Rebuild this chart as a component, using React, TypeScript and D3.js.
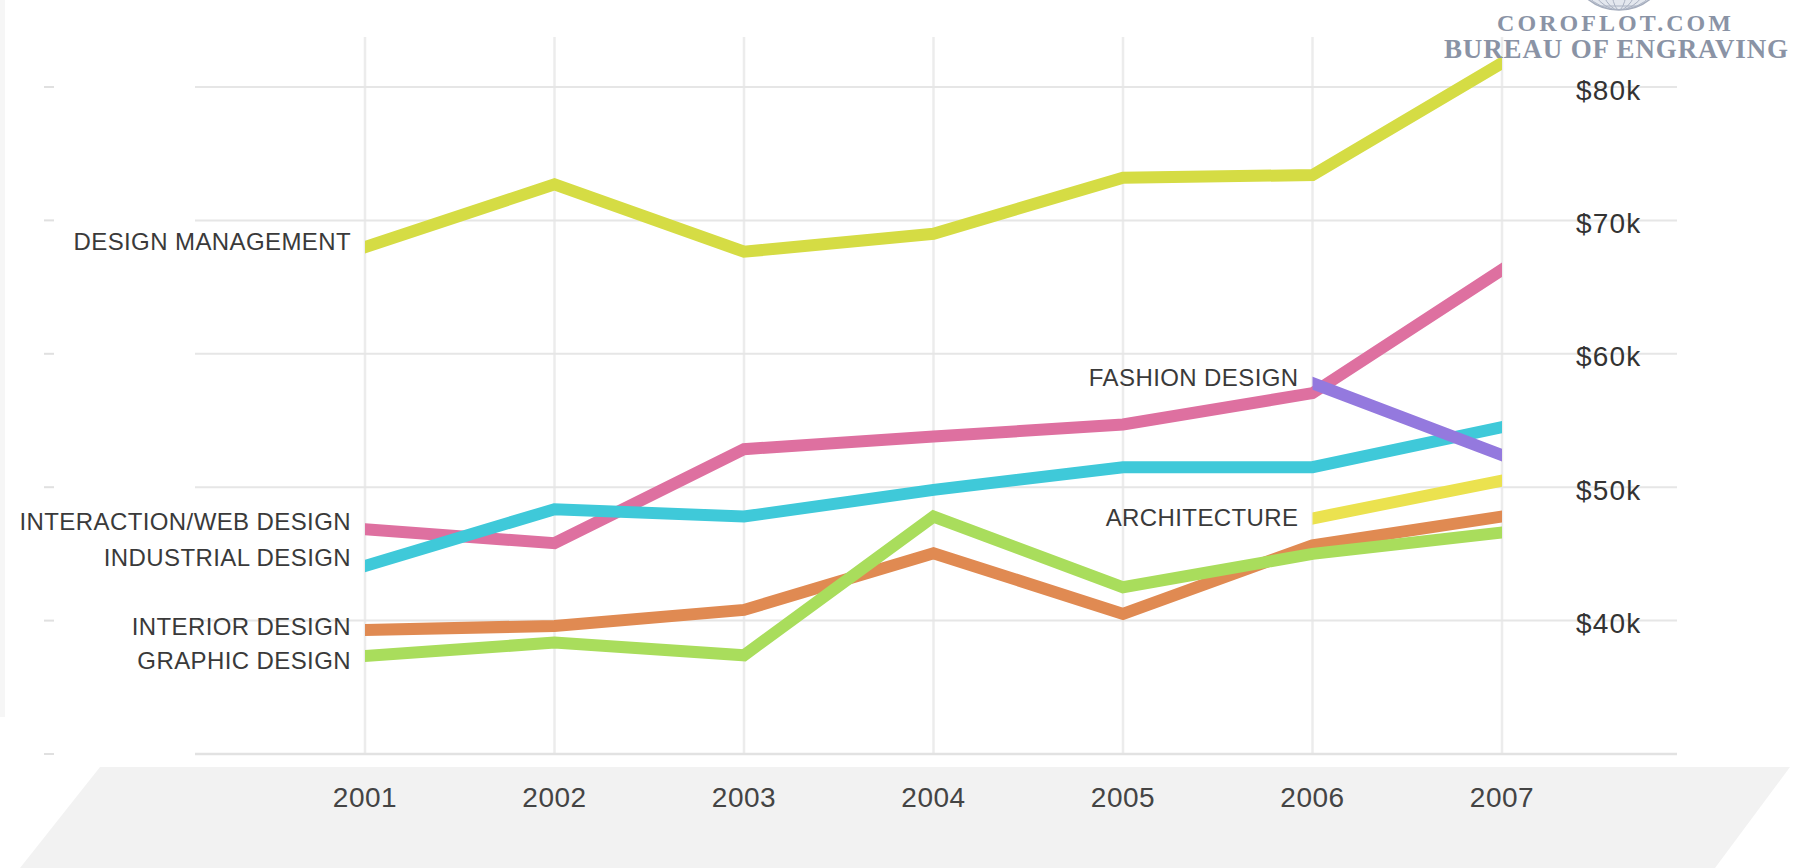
import React from 'react';
import * as d3 from 'd3';

const years = [2001, 2002, 2003, 2004, 2005, 2006, 2007];
const yTickValues = [40, 50, 60, 70, 80];
const gridLevels = [30, 40, 50, 60, 70, 80];
const yTickLabels = ['$40k', '$50k', '$60k', '$70k', '$80k'];

const designManagement = [68.0, 72.7, 67.65, 69.0, 73.2, 73.4, 81.8];
const interactionWeb = [46.85, 45.8, 52.85, 53.8, 54.7, 57.05, 66.3];
const industrial = [44.1, 48.35, 47.8, 49.8, 51.5, 51.5, 54.5];
const interior = [39.3, 39.6, 40.8, 45.05, 40.5, 45.65, 47.8];
const graphic = [37.35, 38.35, 37.4, 47.8, 42.5, 45.0, 46.6];
const fashionYears = [2006, 2007];
const fashion = [57.8, 52.4];
const architectureYears = [2006, 2007];
const architecture = [47.66, 50.5];

type Series = { name: string; years: number[]; values: number[]; color: string; labelDy: number };

const series: Series[] = [
  { name: 'DESIGN MANAGEMENT', years, values: designManagement, color: '#d5dc44', labelDy: -6 },
  { name: 'INTERIOR DESIGN', years, values: interior, color: '#e08a52', labelDy: -3 },
  { name: 'INTERACTION/WEB DESIGN', years, values: interactionWeb, color: '#de70a0', labelDy: -8 },
  { name: 'INDUSTRIAL DESIGN', years, values: industrial, color: '#3fc9d9', labelDy: -8.5 },
  { name: 'GRAPHIC DESIGN', years, values: graphic, color: '#a9dd5c', labelDy: 5 },
  { name: 'ARCHITECTURE', years: architectureYears, values: architecture, color: '#ebe24f', labelDy: -1 },
  { name: 'FASHION DESIGN', years: fashionYears, values: fashion, color: '#9479de', labelDy: -6 },
];

const W = 1797;
const H = 868;

export default function App() {
  const x = d3.scaleLinear().domain([2001, 2007]).range([365, 1502]);
  const y = d3.scaleLinear().domain([30, 80]).range([754, 87]);
  const line = d3
    .line<[number, number]>()
    .x((d) => x(d[0]))
    .y((d) => y(d[1]));

  const sans = "'Liberation Sans', Arial, Helvetica, sans-serif";
  const serif = "'Liberation Serif', 'DejaVu Serif', serif";

  const gridLeft = 195;
  const gridRight = 1677;
  const floorTop = 767;
  const floor = [
    [100, floorTop],
    [1790, floorTop],
    [1715, H],
    [20, H],
  ];

  return (
    <div>
      <style>{`body{margin:0;background:#fff}`}</style>
      <svg width={W} height={H} style={{ display: 'block' }}>
        <defs>
          {series.map((s, i) => (
            <clipPath id={`clip-${i}`} key={i}>
              <rect
                x={x(s.years[0])}
                y={0}
                width={x(s.years[s.years.length - 1]) - x(s.years[0])}
                height={H}
              />
            </clipPath>
          ))}
          <clipPath id="globe-clip">
            <circle cx={1619} cy={-40} r={50} />
          </clipPath>
        </defs>

        {/* left faint strip */}
        <rect x={0} y={0} width={5} height={717} fill="#f6f6f6" />

        {/* floor */}
        <polygon points={floor.map((p) => p.join(',')).join(' ')} fill="#f2f2f2" />

        {/* vertical grid */}
        {years.map((yr) => (
          <line
            key={yr}
            x1={x(yr)}
            x2={x(yr)}
            y1={37}
            y2={y(30)}
            stroke="#ececec"
            strokeWidth={2.5}
          />
        ))}

        {/* horizontal grid */}
        {gridLevels.map((v) => (
          <g key={v}>
            <line
              x1={gridLeft}
              x2={gridRight}
              y1={y(v)}
              y2={y(v)}
              stroke={v === 30 ? '#e2e2e2' : '#e6e6e6'}
              strokeWidth={v === 30 ? 2.5 : 2}
            />
            <line x1={44} x2={54} y1={y(v)} y2={y(v)} stroke="#e0e0e0" strokeWidth={2} />
          </g>
        ))}

        {/* lines */}
        {series.map((s, i) => (
          <path
            key={s.name}
            d={line(s.years.map((yr, j) => [yr, s.values[j]] as [number, number])) || ''}
            fill="none"
            stroke={s.color}
            strokeWidth={12}
            strokeLinecap="square"
            strokeLinejoin="miter"
            strokeMiterlimit={4}
            clipPath={`url(#clip-${i})`}
          />
        ))}

        {/* series labels */}
        {series.map((s) => (
          <text
            key={s.name}
            x={x(s.years[0]) - 14}
            y={y(s.values[0]) + s.labelDy}
            textAnchor="end"
            dominantBaseline="central"
            fontFamily={sans}
            fontSize={24}
            letterSpacing={0.4}
            fill="#3a3a3a"
          >
            {s.name}
          </text>
        ))}

        {/* y tick labels */}
        {yTickValues.map((v, i) => (
          <text
            key={v}
            x={1576}
            y={y(v) + 3}
            dominantBaseline="central"
            fontFamily={sans}
            fontSize={28}
            letterSpacing={1.2}
            fill="#333"
          >
            {yTickLabels[i]}
          </text>
        ))}

        {/* year labels */}
        {years.map((yr) => (
          <text
            key={yr}
            x={x(yr)}
            y={797}
            textAnchor="middle"
            dominantBaseline="central"
            fontFamily={sans}
            fontSize={28}
            letterSpacing={0.5}
            fill="#444"
          >
            {yr}
          </text>
        ))}

        {/* watermark */}
        <g>
          <circle cx={1619} cy={-40} r={50} fill="#e3e7ee" stroke="#a5adbd" strokeWidth={1.5} />
          <g clipPath="url(#globe-clip)" stroke="#aab2c2" strokeWidth={1} fill="none">
            {[10, 22, 34, 46].map((rx) => (
              <ellipse key={rx} cx={1619} cy={-40} rx={rx} ry={50} />
            ))}
            {[-10, -2, 6].map((yy) => (
              <line key={yy} x1={1560} x2={1680} y1={yy} y2={yy} />
            ))}
          </g>
          <text
            x={1614}
            y={31}
            textAnchor="middle"
            fontFamily={serif}
            fontWeight="bold"
            fontSize={24}
            textLength={234}
            lengthAdjust="spacing"
            fill="#8a93a5"
          >
            COROFLOT.COM
          </text>
          <text
            x={1616}
            y={58}
            textAnchor="middle"
            fontFamily={serif}
            fontWeight="bold"
            fontSize={27}
            textLength={344}
            lengthAdjust="spacing"
            fill="#8a93a5"
          >
            BUREAU OF ENGRAVING
          </text>
        </g>
      </svg>
    </div>
  );
}
